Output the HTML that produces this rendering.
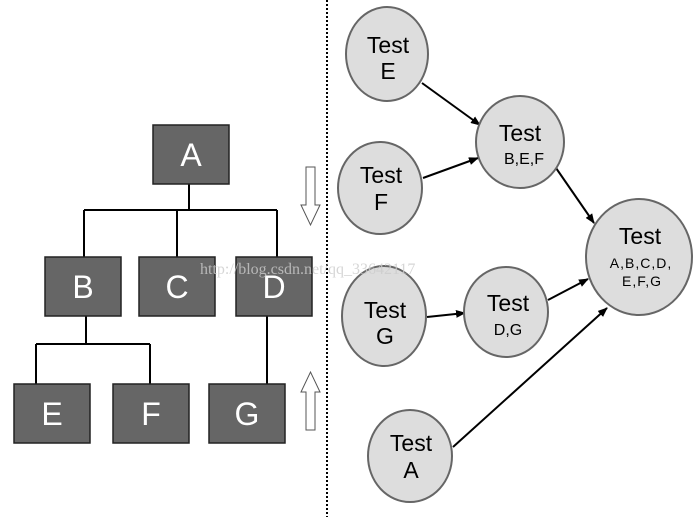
<!DOCTYPE html>
<html><head><style>body{margin:0;background:#fff}</style></head><body>
<svg width="700" height="517" viewBox="0 0 700 517" xmlns="http://www.w3.org/2000/svg" font-family="Liberation Sans, sans-serif">
<defs><marker id="ah" markerWidth="10" markerHeight="8" refX="9" refY="4" orient="auto" markerUnits="userSpaceOnUse"><path d="M0,0 L10,4 L0,8 z" fill="#000"/></marker></defs>
<g stroke="#000" stroke-width="2" fill="none">
<path d="M189 184V210M84 210H277M84 210V257M177 210V257M277 210V257M86 316V344M36 344H150M36 344V384M150 344V384M267 316V384"/>
</g>
<g fill="#666" stroke="#222" stroke-width="1.5">
<rect x="153" y="125" width="76" height="59"/>
<rect x="45" y="257" width="76" height="59"/><rect x="139" y="257" width="76" height="59"/><rect x="236" y="257" width="76" height="59"/>
<rect x="14" y="384" width="76" height="59"/><rect x="113" y="384" width="76" height="59"/><rect x="209" y="384" width="76" height="59"/>
</g>
<g fill="#fff" font-size="32" text-anchor="middle">
<text x="191" y="166">A</text><text x="83" y="298">B</text><text x="177" y="298">C</text><text x="274" y="298">D</text>
<text x="52" y="425">E</text><text x="151" y="425">F</text><text x="247" y="425">G</text>
</g>
<g fill="#fff" stroke="#555" stroke-width="1">
<path d="M306 167H315V205H320L310.5 225L301 205H306Z"/>
<path d="M306 430H315V392H320L310.5 372L301 392H306Z"/>
</g>
<line x1="327" y1="0" x2="327" y2="517" stroke="#000" stroke-width="2" stroke-dasharray="2,2"/>
<g stroke="#000" stroke-width="2" marker-end="url(#ah)">
<line x1="422" y1="83" x2="480" y2="125"/><line x1="423" y1="178" x2="478" y2="158"/>
<line x1="556" y1="168" x2="594" y2="223"/><line x1="427" y1="317" x2="465" y2="313"/>
<line x1="548" y1="300" x2="588" y2="279"/><line x1="453" y1="447" x2="607" y2="308"/>
</g>
<g fill="#ddd" stroke="#666" stroke-width="2">
<ellipse cx="387" cy="54" rx="41" ry="47"/><ellipse cx="520" cy="142" rx="44" ry="46"/>
<ellipse cx="380" cy="188" rx="42" ry="46"/><ellipse cx="639" cy="257" rx="53" ry="58"/>
<ellipse cx="384" cy="316" rx="42" ry="50"/><ellipse cx="506" cy="312" rx="42" ry="45"/>
<ellipse cx="410" cy="456" rx="42" ry="46"/>
</g>
<g fill="#000" text-anchor="middle" font-size="23">
<text x="388" y="53">Test</text><text x="388" y="79">E</text>
<text x="520" y="141">Test</text><text x="381" y="183">Test</text><text x="381" y="210">F</text>
<text x="640" y="244">Test</text><text x="385" y="318">Test</text><text x="385" y="344">G</text>
<text x="508" y="311">Test</text><text x="411" y="451">Test</text><text x="411" y="478">A</text>
</g>
<g fill="#000" text-anchor="middle" font-size="16">
<text x="524" y="164">B,E,F</text><text x="508" y="335">D,G</text>
</g>
<g fill="#000" text-anchor="middle" font-size="14" letter-spacing="1">
<text x="641" y="268">A,B,C,D,</text><text x="642" y="286">E,F,G</text>
</g>
<text x="200" y="274" font-family="Liberation Serif, serif" font-size="16" fill="#ccc" opacity="0.8">http://blog.csdn.net/qq_33642117</text>
</svg>
</body></html>
